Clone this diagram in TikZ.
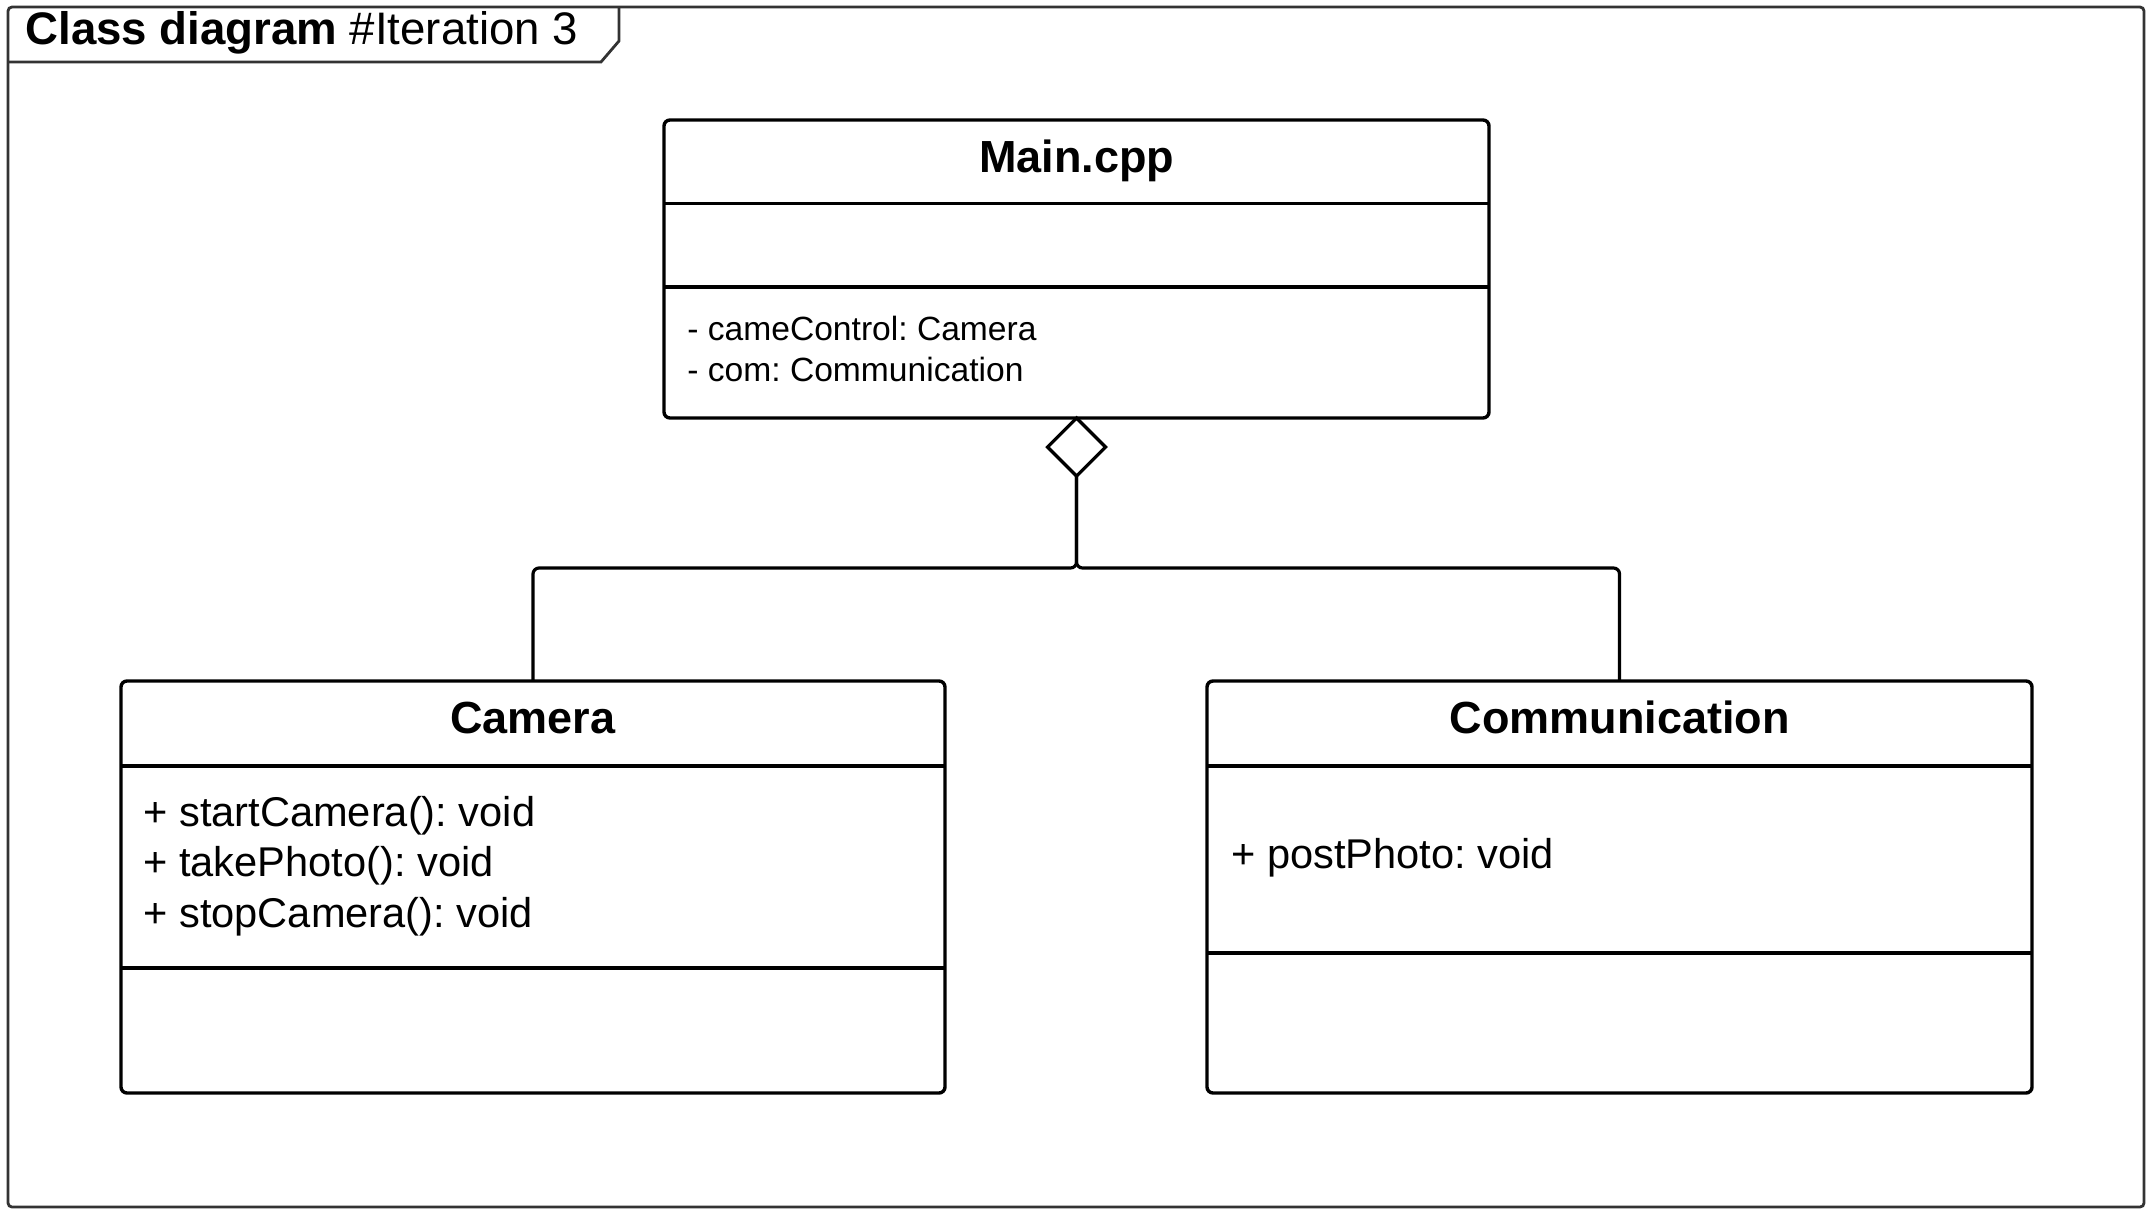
\documentclass[tikz,border=0pt]{standalone}
\usepackage{fontspec}
\setmainfont{Liberation Sans}
\usetikzlibrary{shapes.geometric}
\definecolor{framecol}{HTML}{333333}
\tikzset{
  classbox/.style={draw, line width=1.7pt, rounded corners=3pt, rectangle, inner sep=0pt, outer sep=0pt},
  divider/.style={line width=1.7pt},
  ctitle/.style={anchor=base, inner sep=0pt, font=\fontsize{22.5}{27}\selectfont\bfseries},
  cmeth/.style={anchor=base west, inner sep=0pt, font=\fontsize{20.8}{25}\selectfont},
  cattr/.style={anchor=base west, inner sep=0pt, font=\fontsize{16.8}{20}\selectfont},
  conn/.style={line width=1.6pt, rounded corners=3pt},
}
\frenchspacing
\begin{document}
\begin{tikzpicture}[x=0.5pt,y=-0.5pt]
\useasboundingbox (0,0) rectangle (2156,1216);
% frame
\draw[framecol, line width=1.4pt, rounded corners=2pt] (8,7) rectangle (2144,1207);
\draw[framecol, line width=1.4pt] (8,62) -- (601,62) -- (619,41) -- (619,7);
\node[anchor=base west, inner sep=0pt, font=\fontsize{22.8}{27}\selectfont] (ftitle) at (25,44) {\textbf{Class diagram} \#Iteration 3};

% Main.cpp
\node[classbox, minimum width=412.5pt, minimum height=149pt] (main) at (1076.5,269) {};
\draw[divider] (664,203.5) -- (1489,203.5);
\draw[divider] (664,287) -- (1489,287);
\node[ctitle] (maint) at (1076.5,172) {Main.cpp};
\node[cattr] (ma1) at (687,340) {- cameControl: Camera};
\node[cattr] (ma2) at (687,381) {- com: Communication};

% Camera
\node[classbox, minimum width=412pt, minimum height=206pt] (cam) at (533,887) {};
\draw[divider] (121,766) -- (945,766);
\draw[divider] (121,968) -- (945,968);
\node[ctitle] (camt) at (533,733) {Camera};
\node[cmeth] (cm1) at (143,826) {+ startCamera(): void};
\node[cmeth] (cm2) at (143,876) {+ takePhoto(): void};
\node[cmeth] (cm3) at (143,927) {+ stopCamera(): void};

% Communication
\node[classbox, minimum width=412.5pt, minimum height=206pt] (comm) at (1619.5,887) {};
\draw[divider] (1207,766) -- (2032,766);
\draw[divider] (1207,953) -- (2032,953);
\node[ctitle] (commt) at (1619.5,733) {Communication};
\node[cmeth] (cmm1) at (1231,868) {+ postPhoto: void};

% aggregation
\node[diamond, draw, line width=1.6pt, fill=white, inner sep=0pt, outer sep=0pt, minimum width=29pt, minimum height=29pt, anchor=north] (dia) at (main.south) {};
\coordinate (j) at (1076.5,568);
\draw[conn] (dia.south) -- (j) -| (cam.north);
\draw[conn] (dia.south) -- (j) -| (comm.north);
\end{tikzpicture}
\end{document}
